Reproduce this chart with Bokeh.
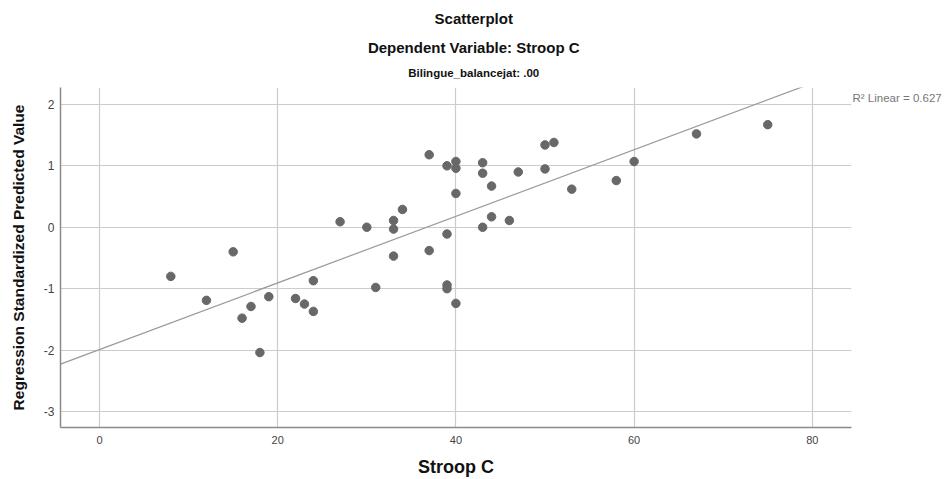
from bokeh.plotting import figure
from bokeh.models import Range1d, FixedTicker, LinearAxis, PrintfTickFormatter
from bokeh.embed import file_html
from bokeh.resources import INLINE
import numpy as np

# Data
stroop_c = [8, 12, 15, 16, 17, 18, 19, 22, 23, 24, 24,
            27, 30, 31, 33, 33, 33, 34, 37, 37, 39, 39, 39, 39,
            40, 40, 40, 40, 43, 43, 43, 44, 44, 46, 47,
            50, 50, 51, 53, 58, 60, 67, 75]
pred_std = [-0.80, -1.19, -0.40, -1.48, -1.29, -2.04, -1.13, -1.16, -1.25, -0.87, -1.37,
            0.09, 0.00, -0.98, 0.11, -0.03, -0.47, 0.29, 1.18, -0.38, 1.00, -0.11, -0.94, -1.00,
            1.07, 0.96, 0.55, -1.24, 1.05, 0.88, 0.00, 0.67, 0.17, 0.11, 0.90,
            1.34, 0.95, 1.38, 0.62, 0.76, 1.07, 1.52, 1.67]
fit_intercept = -1.99
fit_slope = 0.0542
r2_linear = 0.627

x_ticks = [0, 20, 40, 60, 80]
y_ticks = [-3, -2, -1, 0, 1, 2]

title1 = "Scatterplot"
title2 = "Dependent Variable: Stroop C"
title3 = "Bilingue_balancejat: .00"
x_label = "Stroop C"
y_label = "Regression Standardized Predicted Value"
r2_text = "R\u00b2 Linear = %.3f" % r2_linear

W, H = 948, 479
BL, BR, BT, BB = 60, 97, 87, 50

p = figure(width=W, height=H, output_backend="svg", toolbar_location=None,
           x_range=Range1d(-4.38, 84.4), y_range=Range1d(-3.26, 2.275),
           min_border_left=BL, min_border_right=BR, min_border_top=BT,
           min_border_bottom=BB, title=None)
p.outline_line_color = None
p.background_fill_color = "white"
p.border_fill_color = "white"

for ax in (p.xaxis[0], p.yaxis[0]):
    ax.major_tick_line_color = None
    ax.minor_tick_line_color = None
    ax.major_tick_out = 0
    ax.major_tick_in = 0
    ax.minor_tick_out = 0
    ax.axis_line_color = "#8a8a8a"
    ax.axis_line_width = 1.5
    ax.major_label_text_color = "#444444"
    ax.major_label_text_font = "Liberation Sans"
    ax.major_label_text_font_size = "11px"
    ax.axis_label_text_font = "Liberation Sans"
    ax.axis_label_text_font_style = "bold"
    ax.axis_label_text_color = "#111111"

p.xaxis[0].ticker = FixedTicker(ticks=x_ticks)
p.yaxis[0].ticker = FixedTicker(ticks=y_ticks)
p.yaxis[0].formatter = PrintfTickFormatter(format="%d")
p.xaxis[0].axis_label = x_label
p.yaxis[0].axis_label = y_label
p.xaxis[0].axis_label_text_font_size = "18px"
p.yaxis[0].axis_label_text_font_size = "15.5px"
p.xaxis[0].major_label_standoff = 8
p.xaxis[0].axis_label_standoff = 10
p.yaxis[0].major_label_standoff = 6
p.yaxis[0].axis_label_standoff = 14
p.yaxis[0].major_label_text_font_size = "12px"

p.xgrid[0].ticker = FixedTicker(ticks=x_ticks)
p.ygrid[0].ticker = FixedTicker(ticks=y_ticks)
for g in (p.xgrid[0], p.ygrid[0]):
    g.grid_line_color = "#cccccc"
    g.grid_line_width = 1.2

# fit line across the x range
x0, x1 = p.x_range.start, p.x_range.end
lx = np.array([x0, x1])
ly = fit_intercept + fit_slope * lx
p.line(lx, ly, line_color="#999999", line_width=1.2)

p.scatter(stroop_c, pred_std, size=8.5, marker="circle",
          fill_color="#686868", line_color="#686868")


def text_axis(tick, label, size, standoff, color="#111111", bold=True, font="Liberation Sans"):
    a = LinearAxis(ticker=FixedTicker(ticks=[tick]),
                   major_label_overrides={tick: label})
    a.axis_line_color = None
    a.major_tick_line_color = None
    a.minor_tick_line_color = None
    a.major_tick_out = 0
    a.major_tick_in = 0
    a.minor_tick_out = 0
    a.minor_tick_in = 0
    a.major_label_standoff = standoff
    a.major_label_text_font = font
    a.major_label_text_font_size = size
    a.major_label_text_font_style = "bold" if bold else "normal"
    a.major_label_text_color = color
    return a


title_x = 42  # horizontal centre of the page, in data units
narrow = "Liberation Sans Narrow, Liberation Sans"
p.add_layout(text_axis(title_x, title3, "11.5px", 9, font=narrow), "above")
p.add_layout(text_axis(title_x, title2, "15px", 8, font=narrow), "above")
p.add_layout(text_axis(title_x, title1, "15px", 9, font=narrow), "above")
p.add_layout(text_axis(2.1, r2_text, "11.5px", 1, color="#777777", bold=False), "right")

open("out.html", "w").write(file_html(p, INLINE))
